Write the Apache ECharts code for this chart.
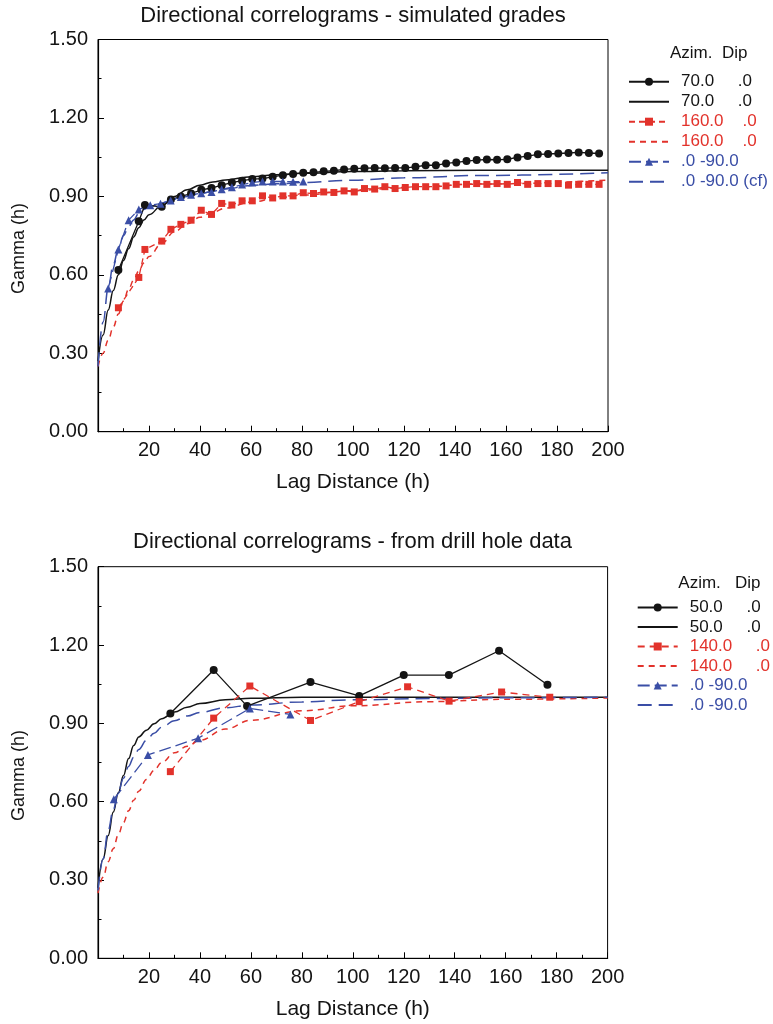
<!DOCTYPE html>
<html>
<head>
<meta charset="utf-8">
<script src="https://cdn.jsdelivr.net/npm/echarts@6/dist/echarts.min.js"></script>
<style>
html,body{margin:0;padding:0;background:#fff;}
#chart{width:773px;height:1024px;}
</style>
</head>
<body>
<div id="chart"></div>
<script>
// ---------- DATA ----------
var xTicks = [0, 20, 40, 60, 80, 100, 120, 140, 160, 180, 200];
var yTicks = [0.00, 0.30, 0.60, 0.90, 1.20, 1.50];

// Top chart: simulated grades
var topExpLags = [8, 16, 18.4, 25, 28.6, 32.5, 36.5, 40.5, 44.5, 48.5, 52.5, 56.5, 60.5, 64.5, 68.5, 72.5, 76.5, 80.5, 84.5, 88.5, 92.5, 96.5, 100.5, 104.5, 108.5, 112.5, 116.5, 120.5, 124.5, 128.5, 132.5, 136.5, 140.5, 144.5, 148.5, 152.5, 156.5, 160.5, 164.5, 168.5, 172.5, 176.5, 180.5, 184.5, 188.5, 192.5, 196.5];
var topExp70 = [0.618, 0.805, 0.867, 0.860, 0.888, 0.900, 0.911, 0.925, 0.932, 0.943, 0.953, 0.960, 0.966, 0.968, 0.975, 0.981, 0.986, 0.990, 0.992, 0.996, 0.998, 1.003, 1.006, 1.008, 1.009, 1.008, 1.009, 1.009, 1.013, 1.019, 1.019, 1.026, 1.030, 1.035, 1.039, 1.041, 1.040, 1.042, 1.049, 1.054, 1.061, 1.062, 1.064, 1.066, 1.068, 1.066, 1.064];
var topExp160 = [0.474, 0.590, 0.697, 0.729, 0.774, 0.793, 0.809, 0.847, 0.831, 0.873, 0.867, 0.883, 0.883, 0.902, 0.894, 0.902, 0.902, 0.914, 0.911, 0.917, 0.915, 0.921, 0.917, 0.930, 0.928, 0.937, 0.930, 0.934, 0.937, 0.937, 0.937, 0.940, 0.946, 0.946, 0.949, 0.946, 0.949, 0.946, 0.953, 0.946, 0.949, 0.949, 0.949, 0.943, 0.946, 0.946, 0.946];
var topExpVLags = [4, 8, 12, 16, 20.5, 24.5, 28.5, 32.5, 36.5, 40.5, 44.5, 48.5, 52.5, 56.5, 60.5, 64.5, 68.5, 72.5, 76.5, 80.5];
var topExpV = [0.548, 0.697, 0.809, 0.850, 0.866, 0.872, 0.884, 0.898, 0.906, 0.912, 0.917, 0.927, 0.935, 0.945, 0.953, 0.957, 0.957, 0.957, 0.956, 0.957];

var topModelLags = [0, 2, 4, 6, 8, 10, 12, 14, 16, 18, 20, 25, 30, 35, 40, 45, 50, 60, 70, 80, 100, 120, 150, 200];
var topModel70 = [0.27, 0.37, 0.465, 0.54, 0.60, 0.655, 0.70, 0.745, 0.78, 0.81, 0.83, 0.865, 0.90, 0.925, 0.943, 0.955, 0.963, 0.975, 0.983, 0.988, 0.995, 0.998, 1.0, 1.0];
var topModel160 = [0.25, 0.30, 0.35, 0.40, 0.45, 0.50, 0.545, 0.58, 0.615, 0.645, 0.67, 0.72, 0.765, 0.795, 0.82, 0.84, 0.855, 0.878, 0.893, 0.905, 0.922, 0.934, 0.947, 0.962];
var topModelV = [0.25, 0.42, 0.55, 0.64, 0.70, 0.75, 0.785, 0.81, 0.835, 0.85, 0.86, 0.875, 0.89, 0.90, 0.91, 0.92, 0.928, 0.942, 0.948, 0.953, 0.962, 0.971, 0.980, 0.990];

// Bottom chart: drill hole data
var botExp50Lags = [28.4, 45.4, 58.5, 83.4, 102.5, 120, 137.7, 157.4, 176.4];
var botExp50 = [0.938, 1.104, 0.966, 1.058, 1.005, 1.085, 1.085, 1.178, 1.048];
var botExp140Lags = [28.4, 45.4, 59.6, 83.4, 102.5, 121.5, 137.8, 158.4, 177.3];
var botExp140 = [0.715, 0.920, 1.043, 0.911, 0.983, 1.040, 0.985, 1.020, 1.000];
var botExpVLags = [6.2, 19.6, 39.3, 59.6, 75.5];
var botExpV = [0.609, 0.779, 0.843, 0.957, 0.934];

var botModelLags = [0, 2, 4, 6, 8, 10, 12, 14, 16, 19, 22, 25, 30, 35, 40, 50, 60, 80, 100, 130, 160, 200];
var botModel50 = [0.27, 0.38, 0.47, 0.56, 0.635, 0.70, 0.765, 0.815, 0.848, 0.874, 0.898, 0.918, 0.943, 0.962, 0.976, 0.990, 0.996, 1.0, 1.0, 1.0, 1.0, 1.0];
var botModel140 = [0.25, 0.31, 0.37, 0.42, 0.475, 0.52, 0.565, 0.605, 0.64, 0.685, 0.72, 0.75, 0.787, 0.812, 0.835, 0.878, 0.912, 0.948, 0.967, 0.983, 0.992, 0.997];
var botModelV = [0.26, 0.38, 0.49, 0.57, 0.64, 0.69, 0.735, 0.77, 0.80, 0.835, 0.862, 0.885, 0.91, 0.928, 0.942, 0.96, 0.97, 0.982, 0.99, 0.995, 0.998, 1.0];

var topLegendLabels = ['70.0     .0', '70.0     .0', '160.0    .0', '160.0    .0', '.0 -90.0', '.0 -90.0 (cf)'];
var botLegendLabels = ['50.0     .0', '50.0     .0', '140.0     .0', '140.0     .0', '.0 -90.0', '.0 -90.0'];
var topTitle = 'Directional correlograms - simulated grades';
var botTitle = 'Directional correlograms - from drill hole data';

// ---------- STYLE ----------
var FONT = 'Liberation Sans, Arial, Helvetica, sans-serif';
var BLACK = '#141414', RED = '#e2322b', BLUE = '#3a4ea6';

function zip(xs, ys) { return xs.map(function (x, i) { return [x, ys[i]]; }); }

var topNames = ['t1', 't2', 't3', 't4', 't5', 't6'];
var botNames = ['b1', 'b2', 'b3', 'b4', 'b5', 'b6'];
var labelMap = {};
topNames.forEach(function (n, i) { labelMap[n] = topLegendLabels[i]; });
botNames.forEach(function (n, i) { labelMap[n] = botLegendLabels[i]; });
var colorsByRow = [BLACK, BLACK, RED, RED, BLUE, BLUE];
var isModelRow = [false, true, false, true, false, true];

function makeX(gi) {
  return {
    type: 'value', gridIndex: gi, min: 0, max: 200, interval: 20,
    name: 'Lag Distance (h)', nameLocation: 'middle', nameGap: 40,
    nameTextStyle: { fontFamily: FONT, fontSize: 21, color: BLACK },
    axisLine: { show: true, lineStyle: { color: '#000', width: 1.2 } },
    axisTick: { show: true, inside: true, length: 6, lineStyle: { color: '#000' } },
    minorTick: { show: true, splitNumber: 2, length: 3.5, lineStyle: { color: '#000' } },
    splitLine: { show: false },
    axisLabel: { fontFamily: FONT, fontSize: 20, color: BLACK, margin: 9,
      formatter: function (v) { return v === 0 ? '' : String(v); } }
  };
}
function makeY(gi) {
  return {
    type: 'value', gridIndex: gi, min: 0, max: 1.5, interval: 0.3,
    name: 'Gamma (h)', nameLocation: 'middle', nameGap: 70,
    nameTextStyle: { fontFamily: FONT, fontSize: 18, color: BLACK, padding: [0, 26, 0, 0] },
    axisLine: { show: true, lineStyle: { color: '#000', width: 1.2 } },
    axisTick: { show: true, inside: true, length: 6, lineStyle: { color: '#000' } },
    minorTick: { show: true, splitNumber: 2, length: 3.5, lineStyle: { color: '#000' } },
    splitLine: { show: false },
    axisLabel: { fontFamily: FONT, fontSize: 20, color: BLACK, margin: 10,
      formatter: function (v) { return v.toFixed(2); } }
  };
}

function modelSeries(name, gi, xs, ys, color, dash, width) {
  return {
    name: name, type: 'line', xAxisIndex: gi, yAxisIndex: gi,
    data: zip(xs, ys), smooth: 0.4, smoothMonotone: 'x',
    symbol: 'none', showSymbol: false,
    lineStyle: { color: color, width: width || 1.5, type: dash || 'solid' },
    itemStyle: { color: color }, z: 2
  };
}
function expSeries(name, gi, xs, ys, color, dash, symbol, size) {
  return {
    name: name, type: 'line', xAxisIndex: gi, yAxisIndex: gi,
    data: zip(xs, ys), symbol: symbol, symbolSize: size, showSymbol: true,
    lineStyle: { color: color, width: 1.3, type: dash || 'solid' },
    itemStyle: { color: color, borderWidth: 0 }, z: 3
  };
}

function legendFor(names, left, top, gap) {
  return {
    data: names.map(function (n, i) {
      var d = { name: n, textStyle: { color: colorsByRow[i] } };
      if (isModelRow[i]) d.itemStyle = { opacity: 0 };
      return d;
    }),
    orient: 'vertical', left: left, top: top, padding: 0,
    itemWidth: 40, itemHeight: 10, itemGap: gap,
    selectedMode: false,
    formatter: function (n) { return labelMap[n]; },
    textStyle: { fontFamily: FONT, fontSize: 17, padding: [0, 0, 0, 7] }
  };
}

var option = {
  animation: false,
  backgroundColor: '#fff',
  grid: [
    { left: 98, top: 39.5, width: 510, height: 392.2, show: true, borderColor: '#000', borderWidth: 1, backgroundColor: 'transparent' },
    { left: 98, top: 566.7, width: 509.6, height: 391.6, show: true, borderColor: '#000', borderWidth: 1, backgroundColor: 'transparent' }
  ],
  xAxis: [makeX(0), makeX(1)],
  yAxis: [makeY(0), makeY(1)],
  legend: [
    legendFor(topNames, 628, 73.2, 3),
    legendFor(botNames, 636.7, 599, 2.5)
  ],
  graphic: [
    { type: 'text', x: 353, y: 16, style: { text: topTitle, font: '22px ' + FONT, fill: BLACK, align: 'center', verticalAlign: 'middle' } },
    { type: 'text', x: 352.5, y: 542, style: { text: botTitle, font: '22px ' + FONT, fill: BLACK, align: 'center', verticalAlign: 'middle' } },
    { type: 'text', x: 670, y: 53.5, style: { text: 'Azim.  Dip', font: '17px ' + FONT, fill: BLACK, align: 'left', verticalAlign: 'middle' } },
    { type: 'text', x: 678.3, y: 583.5, style: { text: 'Azim.   Dip', font: '17px ' + FONT, fill: BLACK, align: 'left', verticalAlign: 'middle' } }
  ],
  series: [
    expSeries('t1', 0, topExpLags, topExp70, BLACK, 'solid', 'circle', 8),
    modelSeries('t2', 0, topModelLags, topModel70, BLACK, 'solid', 1.5),
    expSeries('t3', 0, topExpLags, topExp160, RED, [6, 4], 'rect', 7),
    modelSeries('t4', 0, topModelLags, topModel160, RED, [6, 5], 1.5),
    expSeries('t5', 0, topExpVLags, topExpV, BLUE, [12, 5], 'triangle', 8),
    modelSeries('t6', 0, topModelLags, topModelV, BLUE, [14, 7], 1.5),

    expSeries('b1', 1, botExp50Lags, botExp50, BLACK, 'solid', 'circle', 8),
    modelSeries('b2', 1, botModelLags, botModel50, BLACK, 'solid', 1.5),
    expSeries('b3', 1, botExp140Lags, botExp140, RED, [7, 5], 'rect', 7),
    modelSeries('b4', 1, botModelLags, botModel140, RED, [6, 5], 1.5),
    expSeries('b5', 1, botExpVLags, botExpV, BLUE, [12, 5], 'triangle', 8),
    modelSeries('b6', 1, botModelLags, botModelV, BLUE, [14, 7], 1.5)
  ]
};

var chart = echarts.init(document.getElementById('chart'), null, { renderer: 'canvas' });
chart.setOption(option);
</script>
</body>
</html>
